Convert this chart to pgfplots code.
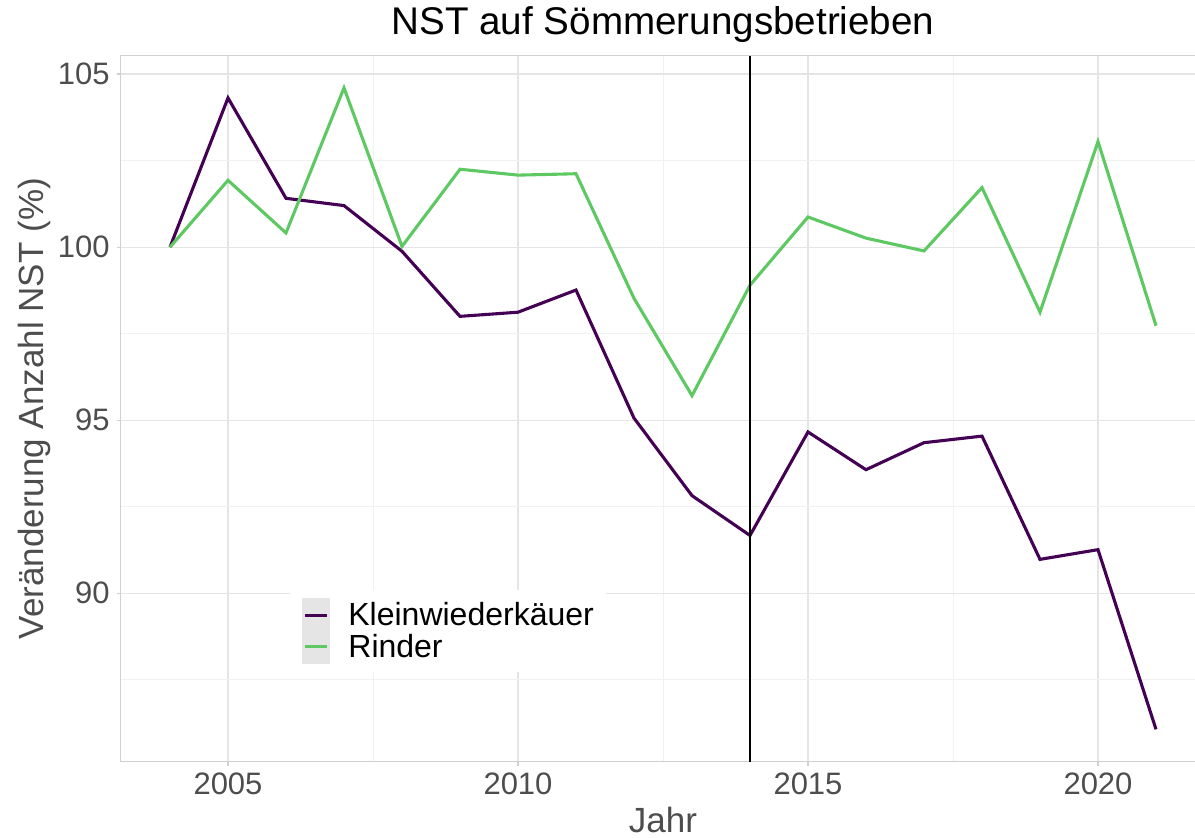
\documentclass[border=0pt]{standalone}
\usepackage{fontspec}
\setmainfont{Liberation Sans}
\usepackage{pgfplots}
\pgfplotsset{compat=1.18}
\definecolor{kw}{HTML}{440154}
\definecolor{ri}{HTML}{5EC962}
\definecolor{tickgray}{HTML}{4D4D4D}
\definecolor{gridmaj}{HTML}{E5E5E5}
\definecolor{gridmin}{HTML}{F1F1F1}
\definecolor{bordercol}{HTML}{D0D0D0}
\definecolor{keybg}{HTML}{E5E5E5}
\begin{document}
\begin{tikzpicture}
\useasboundingbox (0,0) rectangle (597.5pt,418.5pt);
\clip (0,0) rectangle (597.5pt,418.5pt);
\begin{axis}[
  at={(60.35pt,37.75pt)}, anchor=south west,
  scale only axis, width=542.3pt, height=352.9pt,
  xmin=2003.15, xmax=2021.85, ymin=85.14, ymax=105.53,
  xtick={2005,2010,2015,2020}, ytick={90,95,100,105},
  minor xtick={2007.5,2012.5,2017.5}, minor ytick={87.5,92.5,97.5,102.5},
  grid=both,
  major grid style={gridmaj, line width=0.6pt},
  minor grid style={gridmin, line width=0.5pt},
  axis line style={bordercol, line width=0.6pt},
  tick align=outside, major tick length=2pt, minor tick length=0pt,
  tick style={bordercol, line width=0.6pt},
  xtick pos=lower, ytick pos=left,
  /pgf/number format/assume math mode=true,
  x tick label style={/pgf/number format/1000 sep={}},
  ticklabel style={font=\fontsize{15.5}{18}\selectfont, text=tickgray},
  xticklabel style={anchor=base, yshift=-14.25pt},
  yticklabel style={anchor=east, inner sep=0pt, xshift=-3.35pt},
  title={NST auf Sömmerungsbetrieben},
  every axis title/.style={font=\fontsize{19.3}{23}\selectfont, text=black, at={(axis description cs:0.5,1)}, anchor=base, yshift=10.4pt},
  xlabel={Jahr},
  xlabel style={font=\fontsize{17.5}{21}\selectfont, text=tickgray, at={(axis description cs:0.5,0)}, anchor=base, yshift=-35.3pt},
  ylabel={Veränderung Anzahl NST (\%)},
  every axis y label/.style={font=\fontsize{17.5}{21}\selectfont, text=tickgray, at={(axis description cs:0,0.5)}, rotate=90, anchor=base, yshift=38.85pt},
  legend style={at={(axis description cs:0.156,0.243)}, anchor=north west, draw=none, fill=white,
    inner xsep=5.85pt, inner ysep=4pt, row sep=-1.75pt,
    font=\fontsize{16}{18}\selectfont,
    nodes={inner sep=0pt}},
  legend cell align=left,
  legend image code/.code={
    \fill[keybg] (0pt,-7.9pt) rectangle (12.5pt,7.9pt);
    \draw[#1] (0.8pt,0pt) -- (11.7pt,0pt);
    \path (21.65pt,0pt);
  },
]
\addplot[kw, line width=1.55pt] coordinates {
(2004,100) (2005,104.31) (2006,101.41) (2007,101.2) (2008,99.88) (2009,98.0)
(2010,98.12) (2011,98.76) (2012,95.06) (2013,92.82) (2014,91.67) (2015,94.66)
(2016,93.57) (2017,94.35) (2018,94.54) (2019,90.98) (2020,91.26) (2021,86.07)
};
\addlegendentry{Kleinwiederkäuer}
\addplot[ri, line width=1.55pt] coordinates {
(2004,100) (2005,101.93) (2006,100.41) (2007,104.6) (2008,100.02) (2009,102.25)
(2010,102.08) (2011,102.12) (2012,98.52) (2013,95.71) (2014,98.9) (2015,100.87)
(2016,100.26) (2017,99.89) (2018,101.72) (2019,98.12) (2020,103.05) (2021,97.73)
};
\addlegendentry{Rinder}
\addplot[black, line width=0.8pt, forget plot] coordinates {(2014,85.14) (2014,105.53)};
\end{axis}
\end{tikzpicture}
\end{document}
